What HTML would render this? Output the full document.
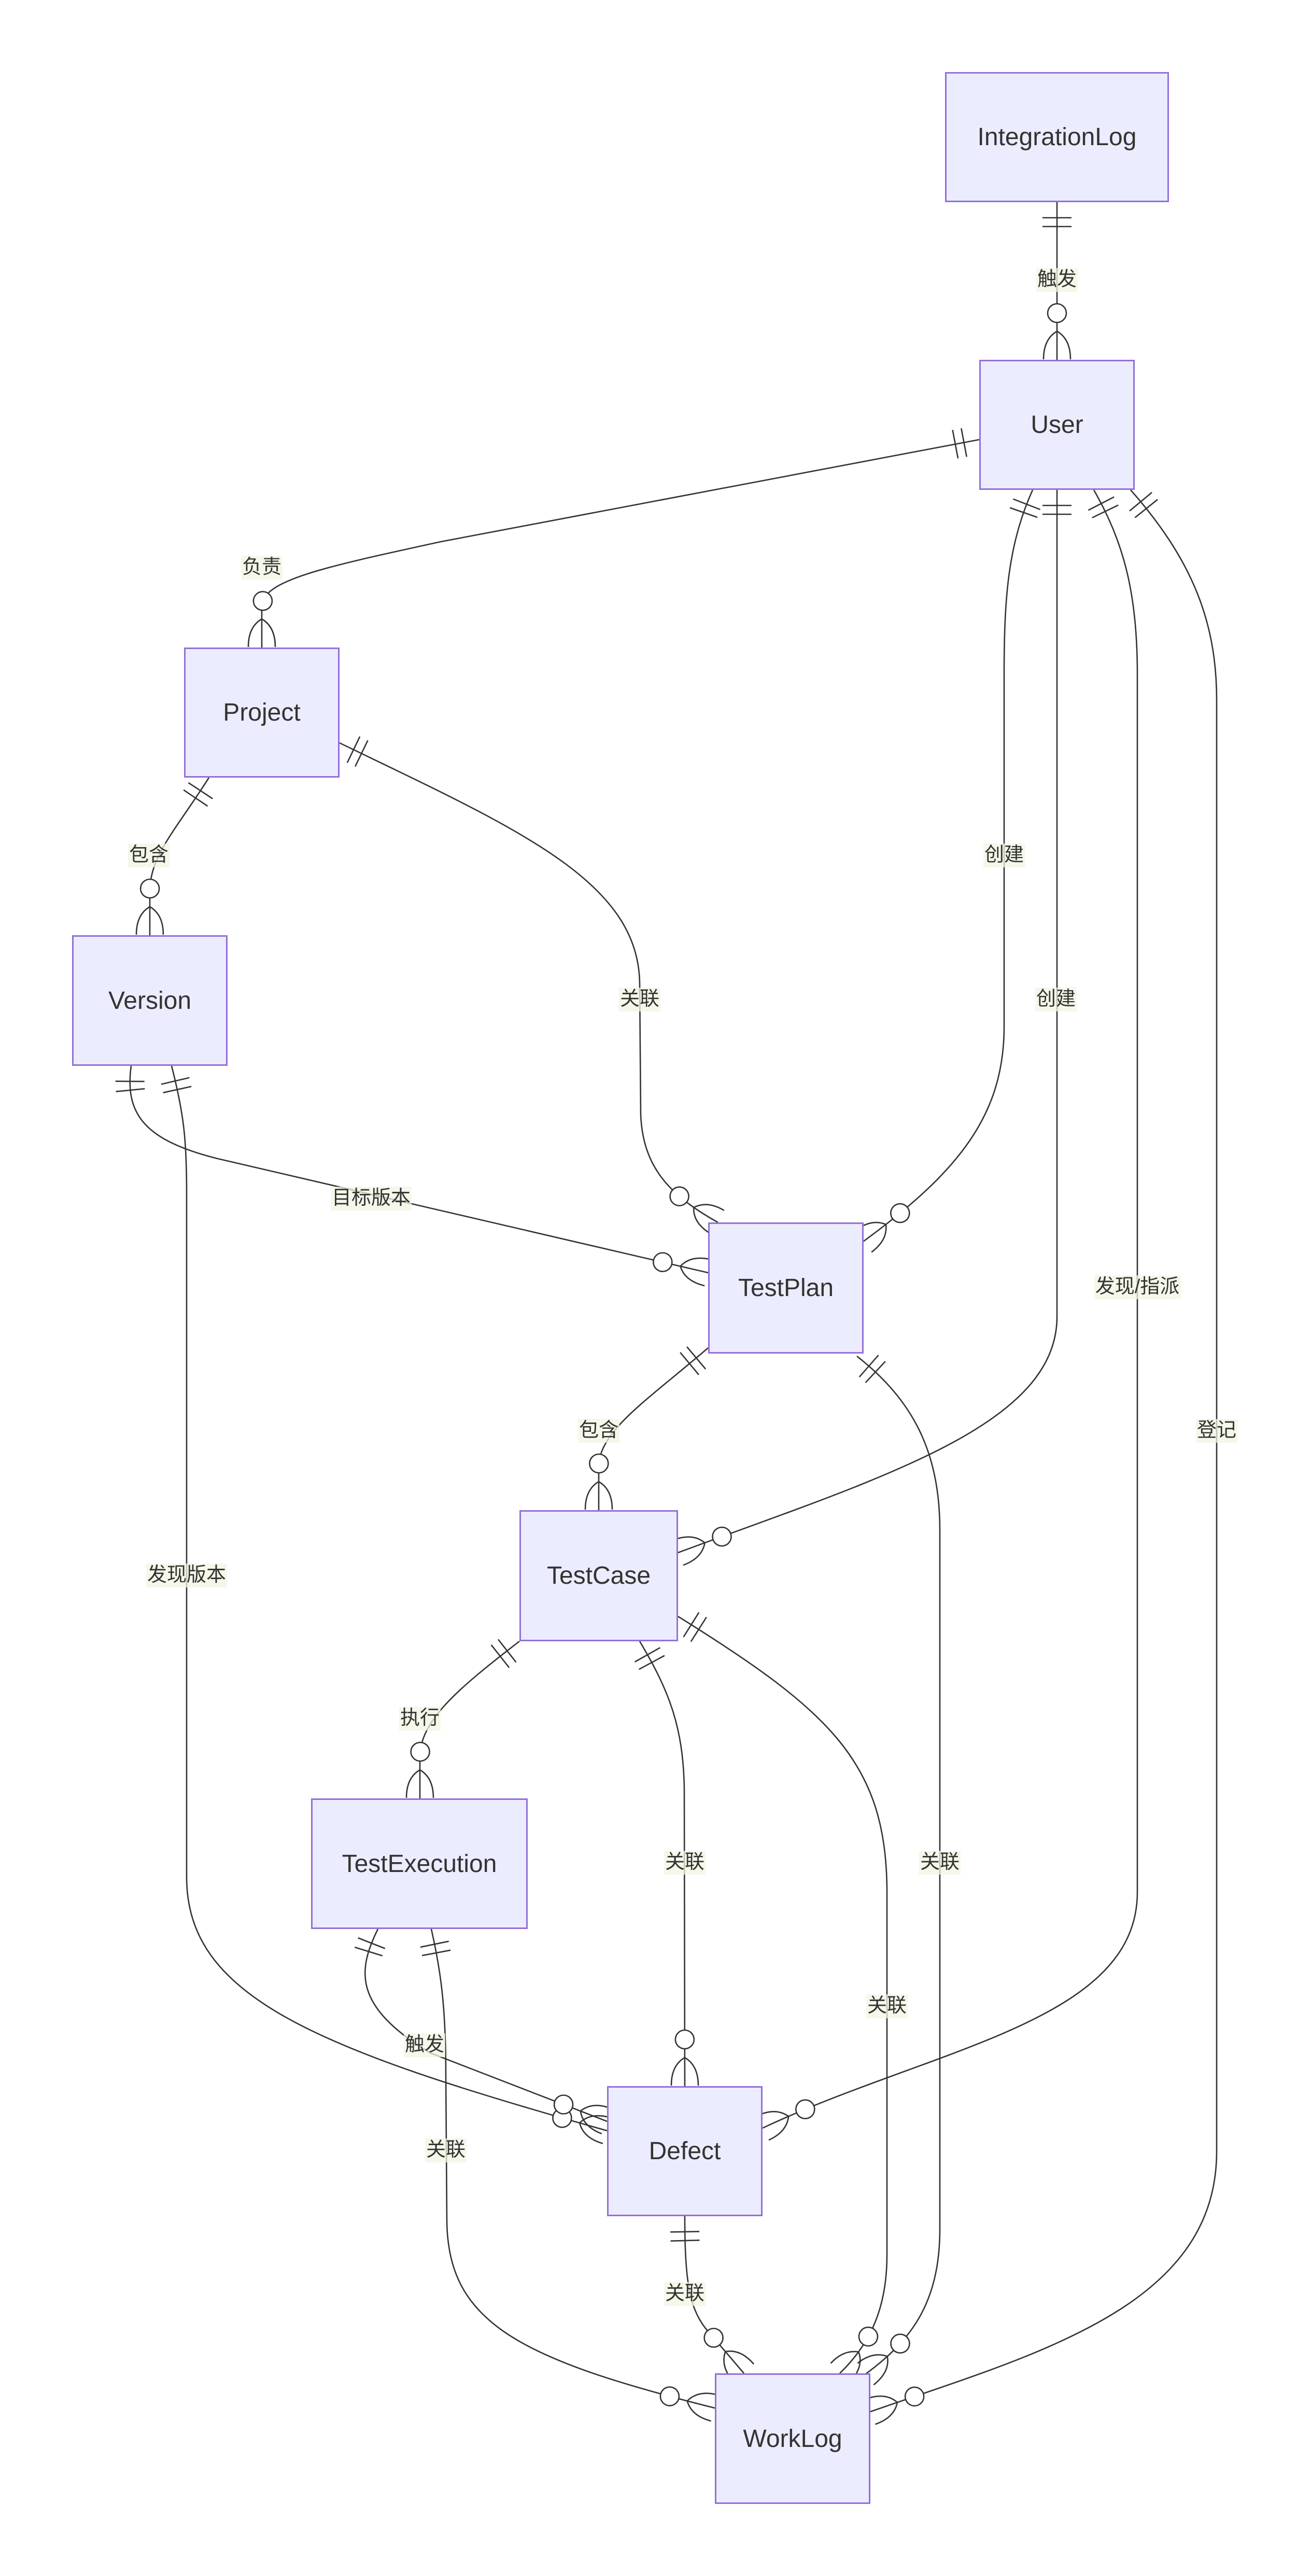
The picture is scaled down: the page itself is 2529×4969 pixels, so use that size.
<!DOCTYPE html>
<html><head><meta charset="utf-8">
<style>
html,body{margin:0;padding:0;background:#fff;}
#wrap{position:relative;width:2529px;height:4969px;overflow:hidden;background:#fff;}
.box{position:absolute;background:#ECECFF;border:3px solid #9370DB;box-sizing:border-box;display:flex;align-items:center;justify-content:center;font-family:"Liberation Sans",sans-serif;font-size:48px;color:#333;}
.lbl{position:absolute;transform:translate(-50%,-50%);font-family:"Liberation Sans","Noto Sans CJK SC",sans-serif;font-size:38px;color:#333;background:rgba(240,245,225,0.75);padding:2px 2px;white-space:nowrap;line-height:1.1;}
svg{position:absolute;left:0;top:0;}
</style></head><body>
<div id="wrap">
<svg id="s" width="2529" height="4969" viewBox="0 0 2529 4969"></svg>
<div class="box" style="left:1823px;top:139px;width:432px;height:251px;">IntegrationLog</div>
<div class="box" style="left:1889px;top:694px;width:300px;height:251px;">User</div>
<div class="box" style="left:355px;top:1249px;width:300px;height:251px;">Project</div>
<div class="box" style="left:139px;top:1804px;width:300px;height:252px;">Version</div>
<div class="box" style="left:1366px;top:2358px;width:300px;height:253px;">TestPlan</div>
<div class="box" style="left:1002px;top:2913px;width:306px;height:253px;">TestCase</div>
<div class="box" style="left:600px;top:3469px;width:418px;height:252px;">TestExecution</div>
<div class="box" style="left:1171px;top:4024px;width:300px;height:251px;">Defect</div>
<div class="box" style="left:1379px;top:4578px;width:300px;height:252px;">WorkLog</div>

<div class="lbl" style="left:2039px;top:540px;">触发</div>
<div class="lbl" style="left:505px;top:1095px;">负责</div>
<div class="lbl" style="left:287px;top:1650px;">包含</div>
<div class="lbl" style="left:1234px;top:1928px;">关联</div>
<div class="lbl" style="left:1937px;top:1650px;">创建</div>
<div class="lbl" style="left:2037px;top:1928px;">创建</div>
<div class="lbl" style="left:2194px;top:2483px;">发现/指派</div>
<div class="lbl" style="left:2347px;top:2760px;">登记</div>
<div class="lbl" style="left:716px;top:2312px;">目标版本</div>
<div class="lbl" style="left:360px;top:3039px;">发现版本</div>
<div class="lbl" style="left:1155px;top:2760px;">包含</div>
<div class="lbl" style="left:1813px;top:3593px;">关联</div>
<div class="lbl" style="left:810px;top:3315px;">执行</div>
<div class="lbl" style="left:1321px;top:3593px;">关联</div>
<div class="lbl" style="left:1711px;top:3870px;">关联</div>
<div class="lbl" style="left:819px;top:3945px;">触发</div>
<div class="lbl" style="left:860px;top:4148px;">关联</div>
<div class="lbl" style="left:1321px;top:4425px;">关联</div>
</div>
<script>
var paths=[
"M2039,390 L2039,694",
"M1889,848 L850,1045 C620,1095 505,1120 505,1170 L505,1249",
"M403,1500 C340,1600 289,1650 289,1720 L289,1804",
"M655,1433 C1000,1600 1234,1700 1234,1900 L1236,2150 C1240,2250 1290,2305 1385,2358",
"M1992,945 C1945,1050 1937,1150 1937,1300 L1937,1980 C1937,2150 1850,2260 1665,2395",
"M2039,945 L2039,2540 C2039,2750 1700,2850 1308,2995",
"M2110,945 C2170,1050 2194,1150 2194,1300 L2194,3650 C2194,3900 1800,3950 1471,4105",
"M2181,945 C2300,1080 2347,1200 2347,1350 L2347,4150 C2347,4450 2000,4540 1679,4652",
"M253,2056 C240,2150 280,2200 420,2235 L1366,2455",
"M331,2056 C355,2150 360,2200 360,2300 L360,3620 C360,3850 600,3950 1171,4110",
"M1366,2600 C1250,2700 1155,2760 1155,2830 L1155,2913",
"M1653,2616 C1760,2700 1813,2800 1813,2950 L1813,4300 C1813,4450 1750,4520 1669,4580",
"M1002,3166 C880,3260 810,3320 810,3390 L810,3469",
"M1234,3166 C1290,3260 1318,3330 1320,3450 L1321,4024",
"M1308,3118 C1600,3300 1711,3400 1711,3650 L1711,4350 C1711,4450 1680,4520 1620,4578",
"M729,3721 C690,3800 680,3870 830,3960 L1171,4092",
"M832,3721 C850,3800 860,3870 860,4000 L862,4280 C862,4480 1000,4550 1379,4645",
"M1321,4275 C1321,4400 1330,4450 1360,4490 L1435,4578"
];
var NS="http://www.w3.org/2000/svg",s=document.getElementById('s');
function el(t,a){var e=document.createElementNS(NS,t);for(var k in a)e.setAttribute(k,a[k]);s.appendChild(e);return e;}
paths.forEach(function(d){
 var p=el('path',{d:d,stroke:"#333","stroke-width":"2.6",fill:"none"});
 var L=p.getTotalLength();
 function pt(l){return p.getPointAtLength(Math.max(0,Math.min(L,l)));}
 function frame(l){var a=pt(l-2),b=pt(l+2);var dx=b.x-a.x,dy=b.y-a.y,n=Math.hypot(dx,dy)||1;return {x:pt(l).x,y:pt(l).y,tx:dx/n,ty:dy/n,nx:-dy/n,ny:dx/n};}
 [30,47].forEach(function(dd){var f=frame(dd);
  el('line',{x1:f.x+f.nx*28,y1:f.y+f.ny*28,x2:f.x-f.nx*28,y2:f.y-f.ny*28,stroke:"#333","stroke-width":"2.6"});});
 var e=frame(L-1), ap=frame(L-55), c=frame(L-40);
 [1,-1].forEach(function(sg){
  var ex=e.x+e.nx*26*sg, ey=e.y+e.ny*26*sg;
  var cx=c.x+c.nx*26*sg, cy=c.y+c.ny*26*sg;
  el('path',{d:"M"+ap.x+","+ap.y+" Q"+cx+","+cy+" "+ex+","+ey,stroke:"#333","stroke-width":"2.6",fill:"none"});
 });
 var cc=frame(L-90);
 el('circle',{cx:cc.x,cy:cc.y,r:18,fill:"#fff",stroke:"#333","stroke-width":"2.6"});
});
</script>
</body></html>
